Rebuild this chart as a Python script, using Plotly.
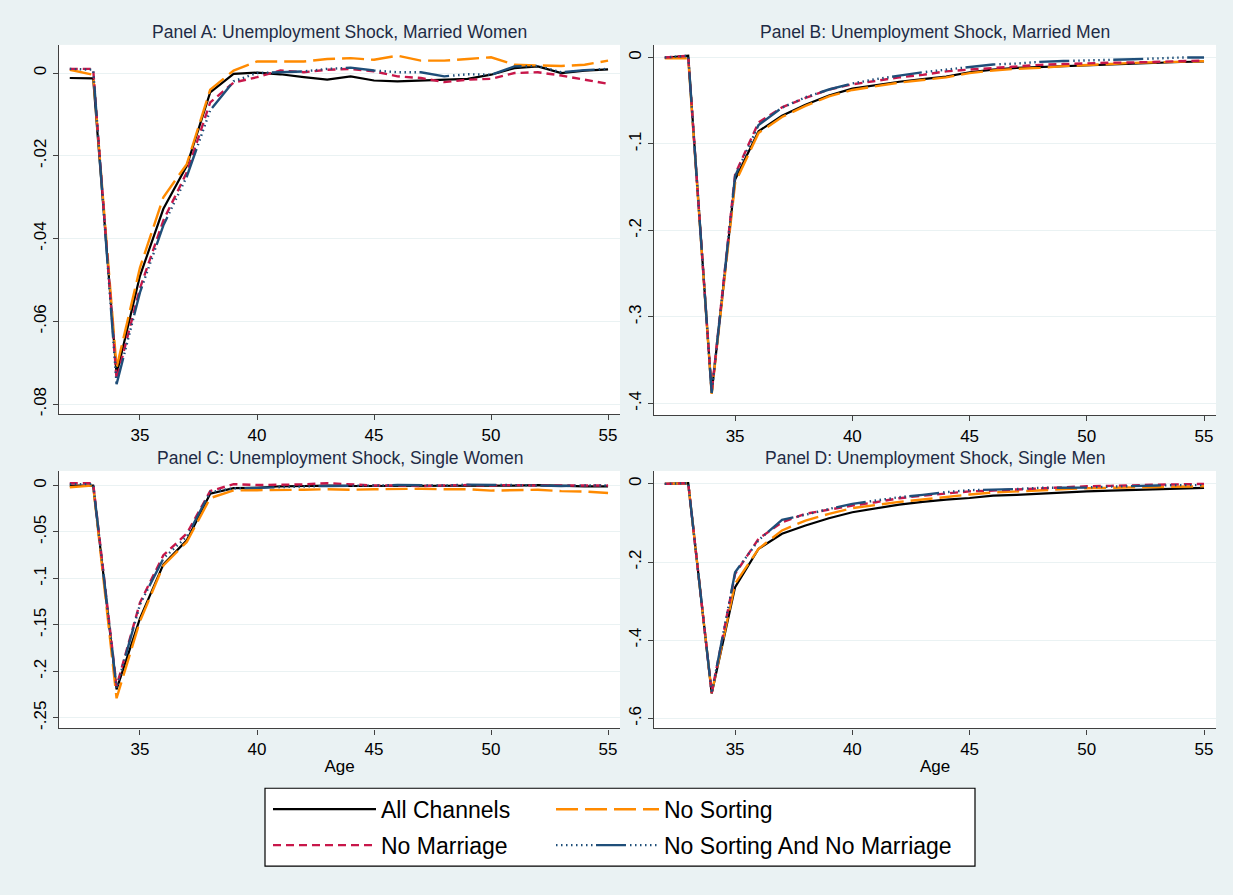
import plotly.graph_objects as go

# Age grid shared by all panels
ages = [32, 33, 34, 35, 36, 37, 38, 39, 40, 41, 42, 43,
        44, 45, 46, 47, 48, 49, 50, 51, 52, 53, 54, 55]

# Panel A: married women
a_all = [-0.0012, -0.0013, -0.0728, -0.049, -0.0328, -0.0224, -0.0047, -0.0002, 0.0001, -0.0003, -0.001, -0.0016,
         -0.0008, -0.0018, -0.002, -0.0018, -0.0016, -0.0014, -0.0004, 0.0012, 0.0016, 0.0, 0.0006, 0.0009]
a_nosort = [0.0008, -0.0004, -0.0712, -0.047, -0.030, -0.022, -0.004, 0.0006, 0.0028, 0.0028, 0.0028, 0.0034,
            0.0036, 0.0032, 0.0042, 0.003, 0.003, 0.0034, 0.0038, 0.002, 0.0018, 0.0017, 0.002, 0.003]
a_nomarr = [0.001, 0.001, -0.074, -0.052, -0.0356, -0.024, -0.0071, -0.0023, -0.001, 0.0006, 0.0002, 0.0008,
            0.001, 0.0004, -0.0008, -0.0012, -0.0022, -0.0016, -0.0014, 0.0, 0.0002, -0.0006, -0.0016, -0.0026]
a_noboth = [0.001, 0.0008, -0.0752, -0.053, -0.0368, -0.025, -0.009, -0.002, 0.0, 0.0002, 0.0004, 0.001,
            0.0013, 0.0006, 0.0002, 0.0002, -0.0008, -0.0003, -0.0004, 0.0016, 0.0017, 0.0002, 0.0007, 0.001]

# Panel B: married men
b_all = [-0.0005, 0.002, -0.388, -0.141, -0.0853, -0.0672, -0.0545, -0.044, -0.036, -0.032, -0.028, -0.025,
         -0.022, -0.017, -0.014, -0.012, -0.011, -0.010, -0.0085, -0.0075, -0.0067, -0.006, -0.0052, -0.0046]
b_nosort = [-0.001, -0.001, -0.389, -0.145, -0.0872, -0.0688, -0.056, -0.045, -0.0375, -0.033, -0.029, -0.026,
            -0.023, -0.018, -0.015, -0.013, -0.012, -0.010, -0.0085, -0.0072, -0.0062, -0.0055, -0.0048, -0.0042]
b_nomarr = [0.0, 0.002, -0.387, -0.135, -0.075, -0.0576, -0.0468, -0.037, -0.031, -0.027, -0.023, -0.020,
            -0.016, -0.014, -0.012, -0.010, -0.0085, -0.0075, -0.0066, -0.006, -0.0057, -0.005, -0.004, -0.0035]
b_noboth = [0.0, 0.002, -0.388, -0.137, -0.078, -0.058, -0.046, -0.037, -0.030, -0.025, -0.021, -0.017,
            -0.014, -0.011, -0.008, -0.007, -0.005, -0.004, -0.0035, -0.003, -0.002, -0.001, 0.0, 0.0]

# Panel C: single women
c_all = [0.0, 0.0, -0.2195, -0.143, -0.0849, -0.0589, -0.0089, -0.0028, -0.0025, -0.0008, -0.0005, 0.0,
         -0.0005, -0.0005, -0.0008, -0.0005, 0.0, 0.0, 0.0, 0.0, 0.0005, -0.0005, -0.0008, -0.0008]
c_nosort = [-0.0018, 0.0, -0.229, -0.146, -0.086, -0.0607, -0.0135, -0.0053, -0.005, -0.005, -0.0045, -0.004,
            -0.0045, -0.004, -0.0035, -0.0035, -0.004, -0.004, -0.0055, -0.005, -0.0045, -0.006, -0.0065, -0.008]
c_nomarr = [0.0025, 0.0025, -0.216, -0.126, -0.075, -0.0517, -0.006, 0.0015, 0.0005, 0.0005, 0.0012, 0.0025,
            0.0015, 0.0, 0.0, -0.0005, 0.0, 0.0005, 0.0, 0.0005, 0.0, 0.0, 0.0, 0.0]
c_noboth = [0.0015, 0.0015, -0.218, -0.128, -0.0785, -0.055, -0.007, -0.003, -0.0025, -0.0015, -0.001, -0.0005,
            -0.0005, 0.0, 0.0005, 0.0, 0.0, 0.001, 0.001, 0.0005, 0.0, -0.0005, 0.0, 0.0]

# Panel D: single men
d_all = [0.0, 0.002, -0.536, -0.264, -0.166, -0.1277, -0.1065, -0.0877, -0.0724, -0.062, -0.0528, -0.046,
         -0.040, -0.036, -0.030, -0.028, -0.025, -0.021, -0.019, -0.017, -0.015, -0.013, -0.011, -0.010]
d_nosort = [0.0, 0.002, -0.535, -0.255, -0.166, -0.119, -0.0937, -0.0766, -0.062, -0.054, -0.046, -0.040,
            -0.033, -0.027, -0.022, -0.019, -0.016, -0.013, -0.011, -0.010, -0.009, -0.008, -0.007, -0.006]
d_nomarr = [0.0, 0.002, -0.535, -0.230, -0.1405, -0.098, -0.0766, -0.0656, -0.0553, -0.0468, -0.0366, -0.030,
            -0.025, -0.019, -0.017, -0.014, -0.011, -0.009, -0.006, -0.005, -0.003, -0.002, -0.001, 0.0]
d_noboth = [0.0, 0.002, -0.535, -0.226, -0.144, -0.092, -0.079, -0.064, -0.051, -0.042, -0.034, -0.028,
            -0.021, -0.016, -0.015, -0.013, -0.010, -0.010, -0.009, -0.007, -0.005, -0.004, -0.003, -0.003]

panel_titles = ["Panel A: Unemployment Shock, Married Women",
                "Panel B: Unemployment Shock, Married Men",
                "Panel C: Unemployment Shock, Single Women",
                "Panel D: Unemployment Shock, Single Men"]

series_names = ["All Channels", "No Sorting", "No Marriage", "No Sorting And No Marriage"]

x_ticks = [35, 40, 45, 50, 55]
a_yticks = [0, -0.02, -0.04, -0.06, -0.08]
a_ylabels = ["0", "-.02", "-.04", "-.06", "-.08"]
b_yticks = [0, -0.1, -0.2, -0.3, -0.4]
b_ylabels = ["0", "-.1", "-.2", "-.3", "-.4"]
c_yticks = [0, -0.05, -0.1, -0.15, -0.2, -0.25]
c_ylabels = ["0", "-.05", "-.1", "-.15", "-.2", "-.25"]
d_yticks = [0, -0.2, -0.4, -0.6]
d_ylabels = ["0", "-.2", "-.4", "-.6"]

BG = "#EAF2F3"
FONT = "Arial, Liberation Sans, sans-serif"
W, H = 1233, 895

# dotted run followed by a long dash
dot_run = ",".join(["1.5px,3.5px"] * 8)
styles = [
    dict(color="#000000", width=2.2, dash="solid"),
    dict(color="#FF8A00", width=2.4, dash="22px,7px"),
    dict(color="#C8174A", width=2.4, dash="8px,5px"),
    dict(color="#1F4E79", width=2.4, dash=dot_run + ",30px,4px"),
]
legend_of = ["legend", "legend2", "legend", "legend2"]

panels = [
    (a_all, a_nosort, a_nomarr, a_noboth),
    (b_all, b_nosort, b_nomarr, b_noboth),
    (c_all, c_nosort, c_nomarr, c_noboth),
    (d_all, d_nosort, d_nomarr, d_noboth),
]

fig = go.Figure()
for p, series in enumerate(panels):
    suffix = "" if p == 0 else str(p + 1)
    for k, vals in enumerate(series):
        fig.add_trace(go.Scatter(
            x=ages, y=vals, mode="lines", name=series_names[k],
            line=styles[k], xaxis="x" + suffix, yaxis="y" + suffix,
            showlegend=(p == 0), legend=legend_of[k], legendgroup=str(k),
            hoverinfo="skip",
        ))

# Plot-area boxes in pixels: (left, right, top, bottom)
boxes = [(59, 620, 45, 415), (654, 1216, 45, 416), (59, 620, 472, 730), (654, 1216, 472, 730)]
yranges = [[-0.0824, 0.0068], [-0.4135, 0.0146], [-0.2614, 0.0157], [-0.6255, 0.0332]]
yticks = [(a_yticks, a_ylabels), (b_yticks, b_ylabels), (c_yticks, c_ylabels), (d_yticks, d_ylabels)]

layout = dict(
    width=W, height=H,
    margin=dict(l=0, r=0, t=0, b=0),
    paper_bgcolor=BG, plot_bgcolor="white",
    font=dict(family=FONT, color="#000000", size=16),
    showlegend=True,
)
annotations = []
for p, (l, r, t, b) in enumerate(boxes):
    suffix = "" if p == 0 else str(p + 1)
    xdom = [l / W, r / W]
    ydom = [1 - b / H, 1 - t / H]
    xa = dict(
        domain=xdom, range=[31.54, 55.51], anchor="y" + suffix,
        tickmode="array", tickvals=x_ticks, ticks="outside", ticklen=5,
        tickcolor="#404040", showline=True, linecolor="#404040", linewidth=1.3,
        showgrid=False, zeroline=False, tickfont=dict(size=17),
    )
    if p >= 2:
        xa["title"] = dict(text="Age", font=dict(size=17), standoff=2)
    ya = dict(
        domain=ydom, range=yranges[p], anchor="x" + suffix,
        tickmode="array", tickvals=yticks[p][0], ticktext=yticks[p][1],
        tickangle=-90, ticks="outside", ticklen=5, tickcolor="#404040",
        showline=True, linecolor="#404040", linewidth=1.3,
        showgrid=True, gridcolor=BG, gridwidth=1.2, zeroline=False,
        tickfont=dict(size=17),
    )
    layout["xaxis" + suffix] = xa
    layout["yaxis" + suffix] = ya
    annotations.append(dict(
        text=panel_titles[p], xref="paper", yref="paper",
        x=(l + r) / 2 / W, y=1 - (t - 13) / H, xanchor="center", yanchor="middle",
        showarrow=False, font=dict(size=17.5, color="#1E2B45"),
    ))

legend_common = dict(
    orientation="v", bgcolor="rgba(0,0,0,0)", borderwidth=0,
    font=dict(size=23, color="#000000", family=FONT),
    itemwidth=103, tracegroupgap=3, xanchor="left", yanchor="top",
    traceorder="grouped",
)
layout["legend"] = dict(legend_common, x=268 / W, y=1 - 789.5 / H)
layout["legend2"] = dict(legend_common, x=551 / W, y=1 - 789.5 / H)
layout["annotations"] = annotations
layout["shapes"] = [dict(
    type="rect", xref="paper", yref="paper",
    x0=265 / W, x1=975 / W, y0=1 - 868 / H, y1=1 - 790 / H,
    fillcolor="white", line=dict(color="#000000", width=1.2), layer="below",
)]

fig.update_layout(**layout)
fig.write_html("out.html")
